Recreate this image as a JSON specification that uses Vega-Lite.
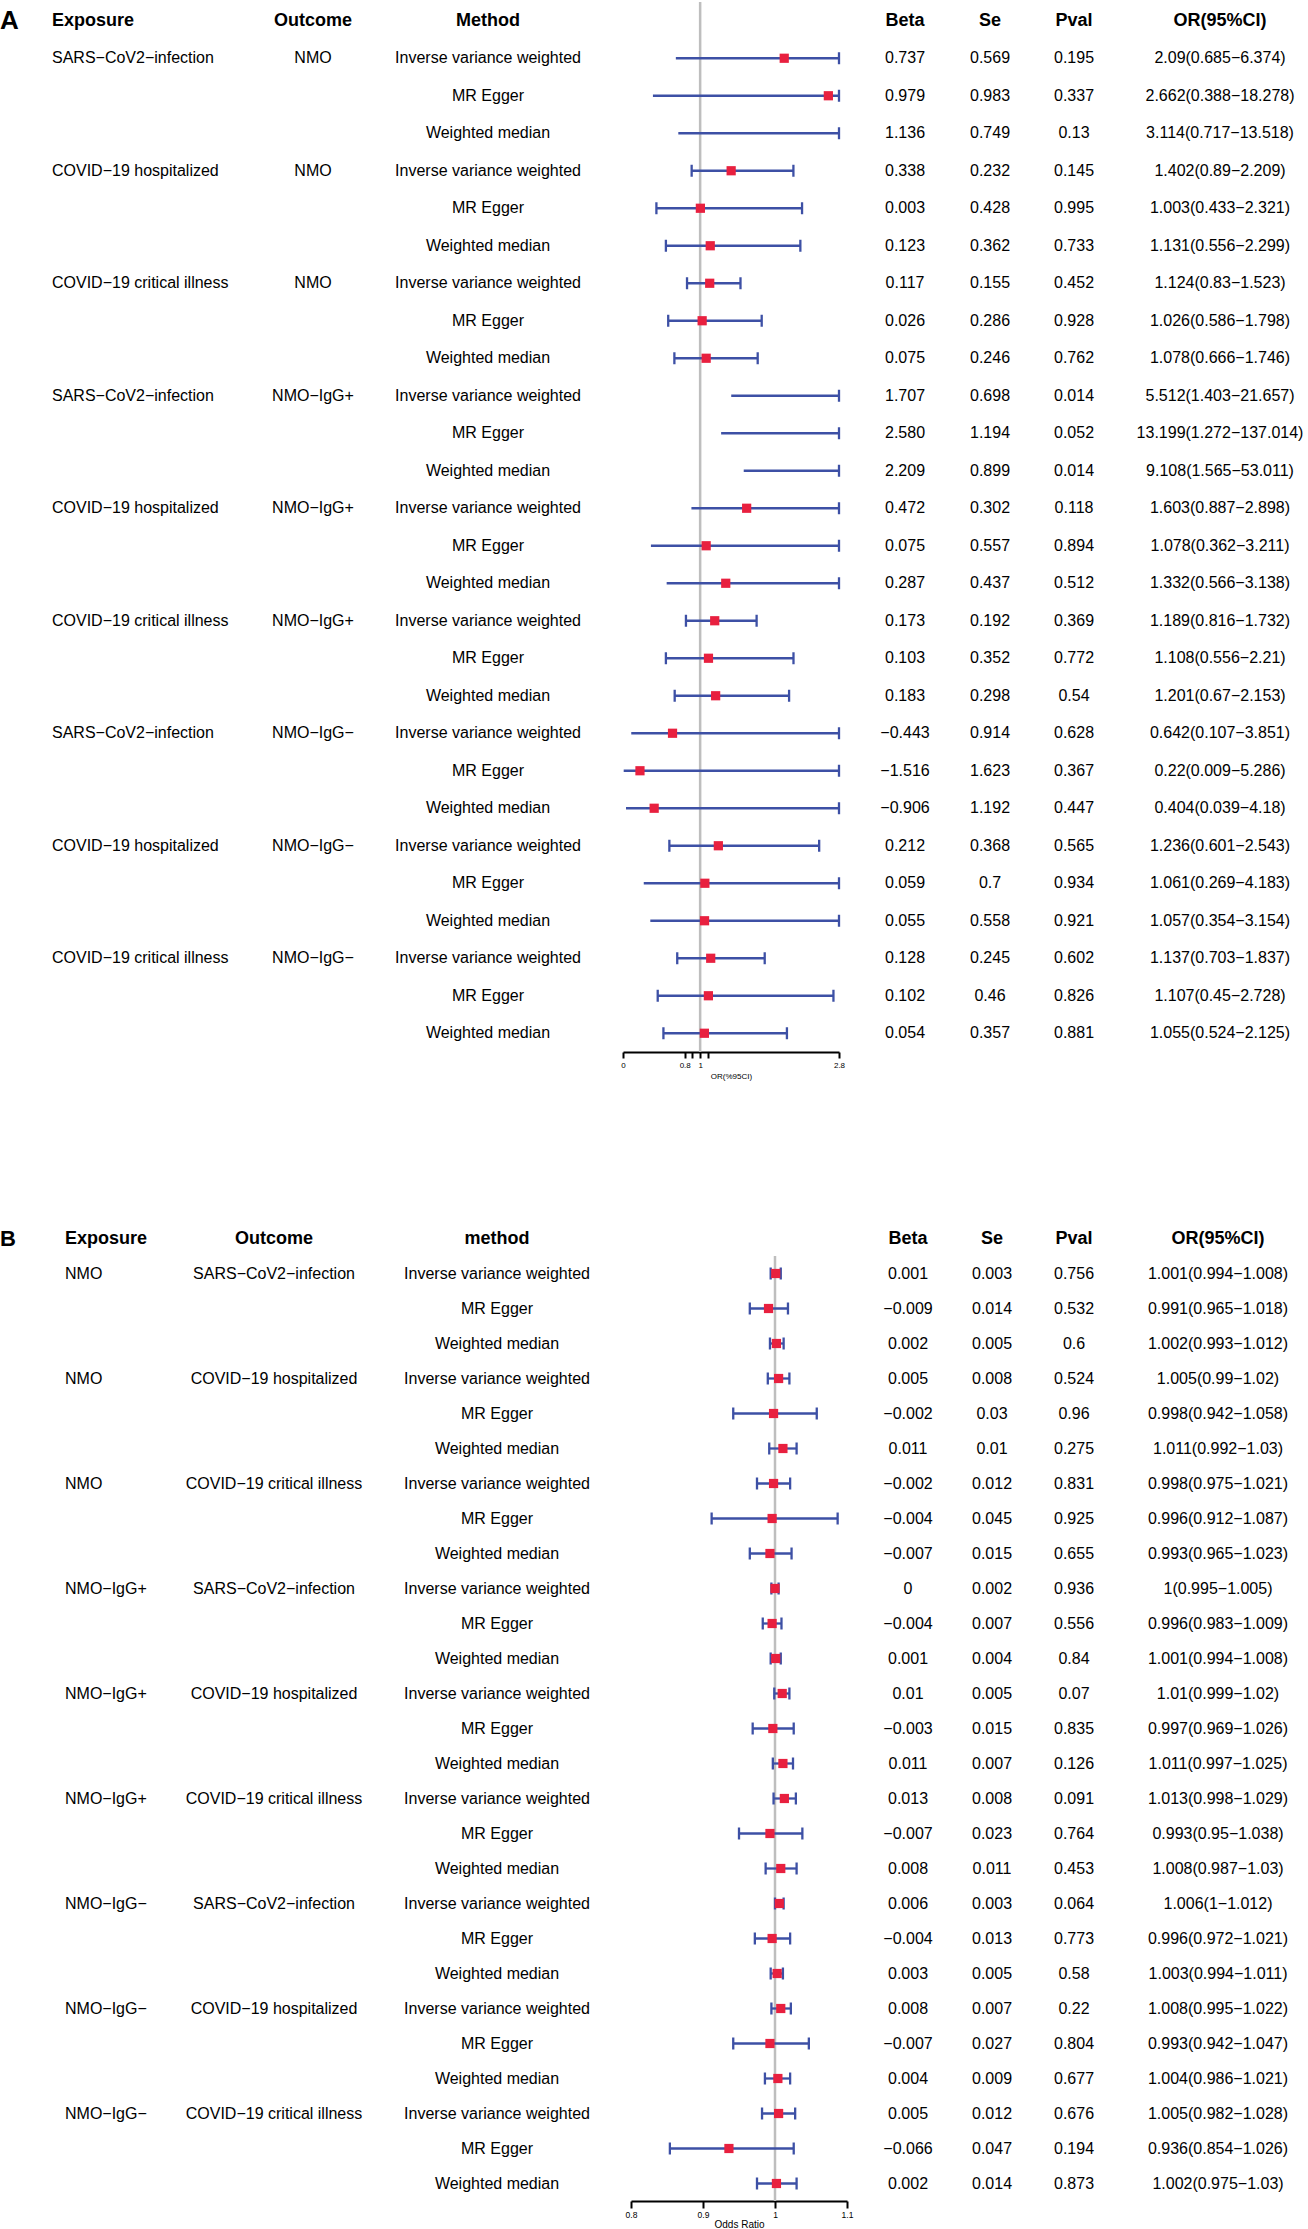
{
  "$schema": "https://vega.github.io/schema/vega-lite/v6.json",
  "padding": 0,
  "background": "white",
  "config": {
    "view": {"stroke": null},
    "text": {"font": "Liberation Sans", "fontSize": 16, "baseline": "middle", "color": "#000000"},
    "axis": {"labelFont": "Liberation Sans", "titleFont": "Liberation Sans", "labelColor": "#000000", "titleColor": "#000000"}
  },
  "datasets": {
    "A": [
      {"id":1,"exposure":"SARS−CoV2−infection","outcome":"NMO","method":"Inverse variance weighted","beta":"0.737","se":"0.569","pval":"0.195","or":2.09,"lo":0.685,"hi":6.374,"ci":"2.09(0.685−6.374)"},
      {"id":2,"exposure":"SARS−CoV2−infection","outcome":"NMO","method":"MR Egger","beta":"0.979","se":"0.983","pval":"0.337","or":2.662,"lo":0.388,"hi":18.278,"ci":"2.662(0.388−18.278)"},
      {"id":3,"exposure":"SARS−CoV2−infection","outcome":"NMO","method":"Weighted median","beta":"1.136","se":"0.749","pval":"0.13","or":3.114,"lo":0.717,"hi":13.518,"ci":"3.114(0.717−13.518)"},
      {"id":4,"exposure":"COVID−19 hospitalized","outcome":"NMO","method":"Inverse variance weighted","beta":"0.338","se":"0.232","pval":"0.145","or":1.402,"lo":0.89,"hi":2.209,"ci":"1.402(0.89−2.209)"},
      {"id":5,"exposure":"COVID−19 hospitalized","outcome":"NMO","method":"MR Egger","beta":"0.003","se":"0.428","pval":"0.995","or":1.003,"lo":0.433,"hi":2.321,"ci":"1.003(0.433−2.321)"},
      {"id":6,"exposure":"COVID−19 hospitalized","outcome":"NMO","method":"Weighted median","beta":"0.123","se":"0.362","pval":"0.733","or":1.131,"lo":0.556,"hi":2.299,"ci":"1.131(0.556−2.299)"},
      {"id":7,"exposure":"COVID−19 critical illness","outcome":"NMO","method":"Inverse variance weighted","beta":"0.117","se":"0.155","pval":"0.452","or":1.124,"lo":0.83,"hi":1.523,"ci":"1.124(0.83−1.523)"},
      {"id":8,"exposure":"COVID−19 critical illness","outcome":"NMO","method":"MR Egger","beta":"0.026","se":"0.286","pval":"0.928","or":1.026,"lo":0.586,"hi":1.798,"ci":"1.026(0.586−1.798)"},
      {"id":9,"exposure":"COVID−19 critical illness","outcome":"NMO","method":"Weighted median","beta":"0.075","se":"0.246","pval":"0.762","or":1.078,"lo":0.666,"hi":1.746,"ci":"1.078(0.666−1.746)"},
      {"id":10,"exposure":"SARS−CoV2−infection","outcome":"NMO−IgG+","method":"Inverse variance weighted","beta":"1.707","se":"0.698","pval":"0.014","or":5.512,"lo":1.403,"hi":21.657,"ci":"5.512(1.403−21.657)"},
      {"id":11,"exposure":"SARS−CoV2−infection","outcome":"NMO−IgG+","method":"MR Egger","beta":"2.580","se":"1.194","pval":"0.052","or":13.199,"lo":1.272,"hi":137.014,"ci":"13.199(1.272−137.014)"},
      {"id":12,"exposure":"SARS−CoV2−infection","outcome":"NMO−IgG+","method":"Weighted median","beta":"2.209","se":"0.899","pval":"0.014","or":9.108,"lo":1.565,"hi":53.011,"ci":"9.108(1.565−53.011)"},
      {"id":13,"exposure":"COVID−19 hospitalized","outcome":"NMO−IgG+","method":"Inverse variance weighted","beta":"0.472","se":"0.302","pval":"0.118","or":1.603,"lo":0.887,"hi":2.898,"ci":"1.603(0.887−2.898)"},
      {"id":14,"exposure":"COVID−19 hospitalized","outcome":"NMO−IgG+","method":"MR Egger","beta":"0.075","se":"0.557","pval":"0.894","or":1.078,"lo":0.362,"hi":3.211,"ci":"1.078(0.362−3.211)"},
      {"id":15,"exposure":"COVID−19 hospitalized","outcome":"NMO−IgG+","method":"Weighted median","beta":"0.287","se":"0.437","pval":"0.512","or":1.332,"lo":0.566,"hi":3.138,"ci":"1.332(0.566−3.138)"},
      {"id":16,"exposure":"COVID−19 critical illness","outcome":"NMO−IgG+","method":"Inverse variance weighted","beta":"0.173","se":"0.192","pval":"0.369","or":1.189,"lo":0.816,"hi":1.732,"ci":"1.189(0.816−1.732)"},
      {"id":17,"exposure":"COVID−19 critical illness","outcome":"NMO−IgG+","method":"MR Egger","beta":"0.103","se":"0.352","pval":"0.772","or":1.108,"lo":0.556,"hi":2.21,"ci":"1.108(0.556−2.21)"},
      {"id":18,"exposure":"COVID−19 critical illness","outcome":"NMO−IgG+","method":"Weighted median","beta":"0.183","se":"0.298","pval":"0.54","or":1.201,"lo":0.67,"hi":2.153,"ci":"1.201(0.67−2.153)"},
      {"id":19,"exposure":"SARS−CoV2−infection","outcome":"NMO−IgG−","method":"Inverse variance weighted","beta":"−0.443","se":"0.914","pval":"0.628","or":0.642,"lo":0.107,"hi":3.851,"ci":"0.642(0.107−3.851)"},
      {"id":20,"exposure":"SARS−CoV2−infection","outcome":"NMO−IgG−","method":"MR Egger","beta":"−1.516","se":"1.623","pval":"0.367","or":0.22,"lo":0.009,"hi":5.286,"ci":"0.22(0.009−5.286)"},
      {"id":21,"exposure":"SARS−CoV2−infection","outcome":"NMO−IgG−","method":"Weighted median","beta":"−0.906","se":"1.192","pval":"0.447","or":0.404,"lo":0.039,"hi":4.18,"ci":"0.404(0.039−4.18)"},
      {"id":22,"exposure":"COVID−19 hospitalized","outcome":"NMO−IgG−","method":"Inverse variance weighted","beta":"0.212","se":"0.368","pval":"0.565","or":1.236,"lo":0.601,"hi":2.543,"ci":"1.236(0.601−2.543)"},
      {"id":23,"exposure":"COVID−19 hospitalized","outcome":"NMO−IgG−","method":"MR Egger","beta":"0.059","se":"0.7","pval":"0.934","or":1.061,"lo":0.269,"hi":4.183,"ci":"1.061(0.269−4.183)"},
      {"id":24,"exposure":"COVID−19 hospitalized","outcome":"NMO−IgG−","method":"Weighted median","beta":"0.055","se":"0.558","pval":"0.921","or":1.057,"lo":0.354,"hi":3.154,"ci":"1.057(0.354−3.154)"},
      {"id":25,"exposure":"COVID−19 critical illness","outcome":"NMO−IgG−","method":"Inverse variance weighted","beta":"0.128","se":"0.245","pval":"0.602","or":1.137,"lo":0.703,"hi":1.837,"ci":"1.137(0.703−1.837)"},
      {"id":26,"exposure":"COVID−19 critical illness","outcome":"NMO−IgG−","method":"MR Egger","beta":"0.102","se":"0.46","pval":"0.826","or":1.107,"lo":0.45,"hi":2.728,"ci":"1.107(0.45−2.728)"},
      {"id":27,"exposure":"COVID−19 critical illness","outcome":"NMO−IgG−","method":"Weighted median","beta":"0.054","se":"0.357","pval":"0.881","or":1.055,"lo":0.524,"hi":2.125,"ci":"1.055(0.524−2.125)"}
    ],
    "B": [
      {"id":1,"exposure":"NMO","outcome":"SARS−CoV2−infection","method":"Inverse variance weighted","beta":"0.001","se":"0.003","pval":"0.756","or":1.001,"lo":0.994,"hi":1.008,"ci":"1.001(0.994−1.008)"},
      {"id":2,"exposure":"NMO","outcome":"SARS−CoV2−infection","method":"MR Egger","beta":"−0.009","se":"0.014","pval":"0.532","or":0.991,"lo":0.965,"hi":1.018,"ci":"0.991(0.965−1.018)"},
      {"id":3,"exposure":"NMO","outcome":"SARS−CoV2−infection","method":"Weighted median","beta":"0.002","se":"0.005","pval":"0.6","or":1.002,"lo":0.993,"hi":1.012,"ci":"1.002(0.993−1.012)"},
      {"id":4,"exposure":"NMO","outcome":"COVID−19 hospitalized","method":"Inverse variance weighted","beta":"0.005","se":"0.008","pval":"0.524","or":1.005,"lo":0.99,"hi":1.02,"ci":"1.005(0.99−1.02)"},
      {"id":5,"exposure":"NMO","outcome":"COVID−19 hospitalized","method":"MR Egger","beta":"−0.002","se":"0.03","pval":"0.96","or":0.998,"lo":0.942,"hi":1.058,"ci":"0.998(0.942−1.058)"},
      {"id":6,"exposure":"NMO","outcome":"COVID−19 hospitalized","method":"Weighted median","beta":"0.011","se":"0.01","pval":"0.275","or":1.011,"lo":0.992,"hi":1.03,"ci":"1.011(0.992−1.03)"},
      {"id":7,"exposure":"NMO","outcome":"COVID−19 critical illness","method":"Inverse variance weighted","beta":"−0.002","se":"0.012","pval":"0.831","or":0.998,"lo":0.975,"hi":1.021,"ci":"0.998(0.975−1.021)"},
      {"id":8,"exposure":"NMO","outcome":"COVID−19 critical illness","method":"MR Egger","beta":"−0.004","se":"0.045","pval":"0.925","or":0.996,"lo":0.912,"hi":1.087,"ci":"0.996(0.912−1.087)"},
      {"id":9,"exposure":"NMO","outcome":"COVID−19 critical illness","method":"Weighted median","beta":"−0.007","se":"0.015","pval":"0.655","or":0.993,"lo":0.965,"hi":1.023,"ci":"0.993(0.965−1.023)"},
      {"id":10,"exposure":"NMO−IgG+","outcome":"SARS−CoV2−infection","method":"Inverse variance weighted","beta":"0","se":"0.002","pval":"0.936","or":1,"lo":0.995,"hi":1.005,"ci":"1(0.995−1.005)"},
      {"id":11,"exposure":"NMO−IgG+","outcome":"SARS−CoV2−infection","method":"MR Egger","beta":"−0.004","se":"0.007","pval":"0.556","or":0.996,"lo":0.983,"hi":1.009,"ci":"0.996(0.983−1.009)"},
      {"id":12,"exposure":"NMO−IgG+","outcome":"SARS−CoV2−infection","method":"Weighted median","beta":"0.001","se":"0.004","pval":"0.84","or":1.001,"lo":0.994,"hi":1.008,"ci":"1.001(0.994−1.008)"},
      {"id":13,"exposure":"NMO−IgG+","outcome":"COVID−19 hospitalized","method":"Inverse variance weighted","beta":"0.01","se":"0.005","pval":"0.07","or":1.01,"lo":0.999,"hi":1.02,"ci":"1.01(0.999−1.02)"},
      {"id":14,"exposure":"NMO−IgG+","outcome":"COVID−19 hospitalized","method":"MR Egger","beta":"−0.003","se":"0.015","pval":"0.835","or":0.997,"lo":0.969,"hi":1.026,"ci":"0.997(0.969−1.026)"},
      {"id":15,"exposure":"NMO−IgG+","outcome":"COVID−19 hospitalized","method":"Weighted median","beta":"0.011","se":"0.007","pval":"0.126","or":1.011,"lo":0.997,"hi":1.025,"ci":"1.011(0.997−1.025)"},
      {"id":16,"exposure":"NMO−IgG+","outcome":"COVID−19 critical illness","method":"Inverse variance weighted","beta":"0.013","se":"0.008","pval":"0.091","or":1.013,"lo":0.998,"hi":1.029,"ci":"1.013(0.998−1.029)"},
      {"id":17,"exposure":"NMO−IgG+","outcome":"COVID−19 critical illness","method":"MR Egger","beta":"−0.007","se":"0.023","pval":"0.764","or":0.993,"lo":0.95,"hi":1.038,"ci":"0.993(0.95−1.038)"},
      {"id":18,"exposure":"NMO−IgG+","outcome":"COVID−19 critical illness","method":"Weighted median","beta":"0.008","se":"0.011","pval":"0.453","or":1.008,"lo":0.987,"hi":1.03,"ci":"1.008(0.987−1.03)"},
      {"id":19,"exposure":"NMO−IgG−","outcome":"SARS−CoV2−infection","method":"Inverse variance weighted","beta":"0.006","se":"0.003","pval":"0.064","or":1.006,"lo":1,"hi":1.012,"ci":"1.006(1−1.012)"},
      {"id":20,"exposure":"NMO−IgG−","outcome":"SARS−CoV2−infection","method":"MR Egger","beta":"−0.004","se":"0.013","pval":"0.773","or":0.996,"lo":0.972,"hi":1.021,"ci":"0.996(0.972−1.021)"},
      {"id":21,"exposure":"NMO−IgG−","outcome":"SARS−CoV2−infection","method":"Weighted median","beta":"0.003","se":"0.005","pval":"0.58","or":1.003,"lo":0.994,"hi":1.011,"ci":"1.003(0.994−1.011)"},
      {"id":22,"exposure":"NMO−IgG−","outcome":"COVID−19 hospitalized","method":"Inverse variance weighted","beta":"0.008","se":"0.007","pval":"0.22","or":1.008,"lo":0.995,"hi":1.022,"ci":"1.008(0.995−1.022)"},
      {"id":23,"exposure":"NMO−IgG−","outcome":"COVID−19 hospitalized","method":"MR Egger","beta":"−0.007","se":"0.027","pval":"0.804","or":0.993,"lo":0.942,"hi":1.047,"ci":"0.993(0.942−1.047)"},
      {"id":24,"exposure":"NMO−IgG−","outcome":"COVID−19 hospitalized","method":"Weighted median","beta":"0.004","se":"0.009","pval":"0.677","or":1.004,"lo":0.986,"hi":1.021,"ci":"1.004(0.986−1.021)"},
      {"id":25,"exposure":"NMO−IgG−","outcome":"COVID−19 critical illness","method":"Inverse variance weighted","beta":"0.005","se":"0.012","pval":"0.676","or":1.005,"lo":0.982,"hi":1.028,"ci":"1.005(0.982−1.028)"},
      {"id":26,"exposure":"NMO−IgG−","outcome":"COVID−19 critical illness","method":"MR Egger","beta":"−0.066","se":"0.047","pval":"0.194","or":0.936,"lo":0.854,"hi":1.026,"ci":"0.936(0.854−1.026)"},
      {"id":27,"exposure":"NMO−IgG−","outcome":"COVID−19 critical illness","method":"Weighted median","beta":"0.002","se":"0.014","pval":"0.873","or":1.002,"lo":0.975,"hi":1.03,"ci":"1.002(0.975−1.03)"}
    ]
  },
  "vconcat": [
    {
      "spacing": 0,
      "bounds": "flush",
      "hconcat": [
        {"width": 52, "height": 1050, "data": {"values": [{"id": 0, "t": "A"}]},
         "mark": {"type": "text", "align": "left", "fontSize": 26, "fontWeight": "bold"},
         "encoding": {"x": {"datum": 0, "type": "quantitative", "scale": {"domain": [0, 1]}, "axis": null},
                      "y": {"field": "id", "type": "quantitative", "scale": {"domain": [-0.5, 27.5], "reverse": true, "nice": false, "zero": false}, "axis": null},
                      "text": {"field": "t"}}},
        {"width": 221, "height": 1050, "layer": [
          {"data": {"values": [{"id": 0, "t": "Exposure"}]}, "mark": {"type": "text", "align": "left", "fontSize": 18, "fontWeight": "bold"},
           "encoding": {"x": {"datum": 0, "type": "quantitative", "scale": {"domain": [0, 1]}, "axis": null},
                        "y": {"field": "id", "type": "quantitative", "scale": {"domain": [-0.5, 27.5], "reverse": true, "nice": false, "zero": false}, "axis": null},
                        "text": {"field": "t"}}},
          {"data": {"name": "A"}, "transform": [{"filter": "datum.method == 'Inverse variance weighted'"}], "mark": {"type": "text", "align": "left"},
           "encoding": {"x": {"datum": 0, "type": "quantitative", "scale": {"domain": [0, 1]}, "axis": null},
                        "y": {"field": "id", "type": "quantitative", "scale": {"domain": [-0.5, 27.5], "reverse": true, "nice": false, "zero": false}, "axis": null},
                        "text": {"field": "exposure"}}}
        ]},
        {"width": 80, "height": 1050, "layer": [
          {"data": {"values": [{"id": 0, "t": "Outcome"}]}, "mark": {"type": "text", "fontSize": 18, "fontWeight": "bold"},
           "encoding": {"y": {"field": "id", "type": "quantitative", "scale": {"domain": [-0.5, 27.5], "reverse": true, "nice": false, "zero": false}, "axis": null}, "text": {"field": "t"}}},
          {"data": {"name": "A"}, "transform": [{"filter": "datum.method == 'Inverse variance weighted'"}], "mark": {"type": "text"},
           "encoding": {"y": {"field": "id", "type": "quantitative", "scale": {"domain": [-0.5, 27.5], "reverse": true, "nice": false, "zero": false}, "axis": null}, "text": {"field": "outcome"}}}
        ]},
        {"width": 270, "height": 1050, "layer": [
          {"data": {"values": [{"id": 0, "t": "Method"}]}, "mark": {"type": "text", "fontSize": 18, "fontWeight": "bold"},
           "encoding": {"y": {"field": "id", "type": "quantitative", "scale": {"domain": [-0.5, 27.5], "reverse": true, "nice": false, "zero": false}, "axis": null}, "text": {"field": "t"}}},
          {"data": {"name": "A"}, "mark": {"type": "text"},
           "encoding": {"y": {"field": "id", "type": "quantitative", "scale": {"domain": [-0.5, 27.5], "reverse": true, "nice": false, "zero": false}, "axis": null}, "text": {"field": "method"}}}
        ]},
        {"width": 216, "height": 1050, "layer": [
          {"data": {"values": [{}]}, "mark": {"type": "rule", "color": "#BEBEBE", "strokeWidth": 2.5},
           "encoding": {"x": {"datum": 1, "type": "quantitative", "scale": {"domain": [0, 2.8], "nice": false, "zero": false, "clamp": true}},
                        "y": {"datum": -0.5, "type": "quantitative", "scale": {"domain": [-0.5, 27.5], "reverse": true, "nice": false, "zero": false}, "axis": null},
                        "y2": {"datum": 27.5}}},
          {"data": {"name": "A"}, "mark": {"type": "rule", "color": "#3D50A5", "strokeWidth": 2.3},
           "encoding": {"x": {"field": "lo", "type": "quantitative", "scale": {"domain": [0, 2.8], "nice": false, "zero": false, "clamp": true},
                              "axis": {"values": [0, 0.8, 0.9, 1, 1.1, 2.8], "format": "~g", "labelExpr": "datum.value == 0.9 || datum.value == 1.1 ? '' : datum.label",
                                       "title": "OR(%95CI)", "grid": false, "domainColor": "#000000", "domainWidth": 2, "tickColor": "#000000", "tickWidth": 2, "tickSize": 6,
                                       "labelFontSize": 8, "labelPadding": 3, "labelFlush": false, "labelOverlap": false, "titleFontSize": 8, "titleFontWeight": "normal", "titlePadding": 3}},
                        "x2": {"field": "hi"},
                        "y": {"field": "id", "type": "quantitative", "axis": null}}},
          {"data": {"name": "A"}, "mark": {"type": "tick", "orient": "vertical", "size": 12, "thickness": 2.3, "color": "#3D50A5", "opacity": 1},
           "encoding": {"x": {"field": "hi", "type": "quantitative"},
                        "y": {"field": "id", "type": "quantitative", "axis": null}}},
          {"data": {"name": "A"}, "transform": [{"filter": "datum.hi <= 2.8"}], "mark": {"type": "tick", "orient": "vertical", "size": 12, "thickness": 2.3, "color": "#3D50A5", "opacity": 1},
           "encoding": {"x": {"field": "lo", "type": "quantitative"},
                        "y": {"field": "id", "type": "quantitative", "axis": null}}},
          {"data": {"name": "A"}, "transform": [{"filter": "datum.or <= 2.8"}], "mark": {"type": "square", "size": 85, "color": "#E8203F", "opacity": 1},
           "encoding": {"x": {"field": "or", "type": "quantitative"},
                        "y": {"field": "id", "type": "quantitative", "axis": null}}}
        ]},
        {"width": 132, "height": 1050, "layer": [
          {"data": {"values": [{"id": 0, "t": "Beta"}]}, "mark": {"type": "text", "fontSize": 18, "fontWeight": "bold"},
           "encoding": {"y": {"field": "id", "type": "quantitative", "scale": {"domain": [-0.5, 27.5], "reverse": true, "nice": false, "zero": false}, "axis": null}, "text": {"field": "t"}}},
          {"data": {"name": "A"}, "mark": {"type": "text"},
           "encoding": {"y": {"field": "id", "type": "quantitative", "scale": {"domain": [-0.5, 27.5], "reverse": true, "nice": false, "zero": false}, "axis": null}, "text": {"field": "beta"}}}
        ]},
        {"width": 38, "height": 1050, "layer": [
          {"data": {"values": [{"id": 0, "t": "Se"}]}, "mark": {"type": "text", "fontSize": 18, "fontWeight": "bold"},
           "encoding": {"y": {"field": "id", "type": "quantitative", "scale": {"domain": [-0.5, 27.5], "reverse": true, "nice": false, "zero": false}, "axis": null}, "text": {"field": "t"}}},
          {"data": {"name": "A"}, "mark": {"type": "text"},
           "encoding": {"y": {"field": "id", "type": "quantitative", "scale": {"domain": [-0.5, 27.5], "reverse": true, "nice": false, "zero": false}, "axis": null}, "text": {"field": "se"}}}
        ]},
        {"width": 130, "height": 1050, "layer": [
          {"data": {"values": [{"id": 0, "t": "Pval"}]}, "mark": {"type": "text", "fontSize": 18, "fontWeight": "bold"},
           "encoding": {"y": {"field": "id", "type": "quantitative", "scale": {"domain": [-0.5, 27.5], "reverse": true, "nice": false, "zero": false}, "axis": null}, "text": {"field": "t"}}},
          {"data": {"name": "A"}, "mark": {"type": "text"},
           "encoding": {"y": {"field": "id", "type": "quantitative", "scale": {"domain": [-0.5, 27.5], "reverse": true, "nice": false, "zero": false}, "axis": null}, "text": {"field": "pval"}}}
        ]},
        {"width": 162, "height": 1050, "layer": [
          {"data": {"values": [{"id": 0, "t": "OR(95%CI)"}]}, "mark": {"type": "text", "fontSize": 18, "fontWeight": "bold"},
           "encoding": {"y": {"field": "id", "type": "quantitative", "scale": {"domain": [-0.5, 27.5], "reverse": true, "nice": false, "zero": false}, "axis": null}, "text": {"field": "t"}}},
          {"data": {"name": "A"}, "mark": {"type": "text"},
           "encoding": {"y": {"field": "id", "type": "quantitative", "scale": {"domain": [-0.5, 27.5], "reverse": true, "nice": false, "zero": false}, "axis": null}, "text": {"field": "ci"}}}
        ]}
      ]
    },
    {
      "spacing": 0,
      "bounds": "flush",
      "hconcat": [
        {"width": 65, "height": 980, "data": {"values": [{"id": 0, "t": "B"}]},
         "mark": {"type": "text", "align": "left", "fontSize": 22, "fontWeight": "bold"},
         "encoding": {"x": {"datum": 0, "type": "quantitative", "scale": {"domain": [0, 1]}, "axis": null},
                      "y": {"field": "id", "type": "quantitative", "scale": {"domain": [-0.5, 27.5], "reverse": true, "nice": false, "zero": false}, "axis": null},
                      "text": {"field": "t"}}},
        {"width": 120, "height": 980, "layer": [
          {"data": {"values": [{"id": 0, "t": "Exposure"}]}, "mark": {"type": "text", "align": "left", "fontSize": 18, "fontWeight": "bold"},
           "encoding": {"x": {"datum": 0, "type": "quantitative", "scale": {"domain": [0, 1]}, "axis": null},
                        "y": {"field": "id", "type": "quantitative", "scale": {"domain": [-0.5, 27.5], "reverse": true, "nice": false, "zero": false}, "axis": null},
                        "text": {"field": "t"}}},
          {"data": {"name": "B"}, "transform": [{"filter": "datum.method == 'Inverse variance weighted'"}], "mark": {"type": "text", "align": "left"},
           "encoding": {"x": {"datum": 0, "type": "quantitative", "scale": {"domain": [0, 1]}, "axis": null},
                        "y": {"field": "id", "type": "quantitative", "scale": {"domain": [-0.5, 27.5], "reverse": true, "nice": false, "zero": false}, "axis": null},
                        "text": {"field": "exposure"}}}
        ]},
        {"width": 178, "height": 980, "layer": [
          {"data": {"values": [{"id": 0, "t": "Outcome"}]}, "mark": {"type": "text", "fontSize": 18, "fontWeight": "bold"},
           "encoding": {"y": {"field": "id", "type": "quantitative", "scale": {"domain": [-0.5, 27.5], "reverse": true, "nice": false, "zero": false}, "axis": null}, "text": {"field": "t"}}},
          {"data": {"name": "B"}, "transform": [{"filter": "datum.method == 'Inverse variance weighted'"}], "mark": {"type": "text"},
           "encoding": {"y": {"field": "id", "type": "quantitative", "scale": {"domain": [-0.5, 27.5], "reverse": true, "nice": false, "zero": false}, "axis": null}, "text": {"field": "outcome"}}}
        ]},
        {"width": 268, "height": 980, "layer": [
          {"data": {"values": [{"id": 0, "t": "method"}]}, "mark": {"type": "text", "fontSize": 18, "fontWeight": "bold"},
           "encoding": {"y": {"field": "id", "type": "quantitative", "scale": {"domain": [-0.5, 27.5], "reverse": true, "nice": false, "zero": false}, "axis": null}, "text": {"field": "t"}}},
          {"data": {"name": "B"}, "mark": {"type": "text"},
           "encoding": {"y": {"field": "id", "type": "quantitative", "scale": {"domain": [-0.5, 27.5], "reverse": true, "nice": false, "zero": false}, "axis": null}, "text": {"field": "method"}}}
        ]},
        {"width": 216, "height": 980, "layer": [
          {"data": {"values": [{}]}, "mark": {"type": "rule", "color": "#BEBEBE", "strokeWidth": 2.5},
           "encoding": {"x": {"datum": 1, "type": "quantitative", "scale": {"domain": [0.8, 1.1], "nice": false, "zero": false, "clamp": true}},
                        "y": {"datum": 0.5, "type": "quantitative", "scale": {"domain": [-0.5, 27.5], "reverse": true, "nice": false, "zero": false}, "axis": null},
                        "y2": {"datum": 27.5}}},
          {"data": {"name": "B"}, "mark": {"type": "rule", "color": "#3D50A5", "strokeWidth": 2.3},
           "encoding": {"x": {"field": "lo", "type": "quantitative", "scale": {"domain": [0.8, 1.1], "nice": false, "zero": false, "clamp": true},
                              "axis": {"values": [0.8, 0.9, 1, 1.1], "format": "~g",
                                       "title": "Odds Ratio", "grid": false, "domainColor": "#000000", "domainWidth": 2, "tickColor": "#000000", "tickWidth": 2, "tickSize": 7,
                                       "labelFontSize": 8.5, "labelPadding": 2, "labelFlush": false, "labelOverlap": false, "titleFontSize": 10, "titleFontWeight": "normal", "titlePadding": 1}},
                        "x2": {"field": "hi"},
                        "y": {"field": "id", "type": "quantitative", "axis": null}}},
          {"data": {"name": "B"}, "mark": {"type": "tick", "orient": "vertical", "size": 12, "thickness": 2.3, "color": "#3D50A5", "opacity": 1},
           "encoding": {"x": {"field": "hi", "type": "quantitative"},
                        "y": {"field": "id", "type": "quantitative", "axis": null}}},
          {"data": {"name": "B"}, "mark": {"type": "tick", "orient": "vertical", "size": 12, "thickness": 2.3, "color": "#3D50A5", "opacity": 1},
           "encoding": {"x": {"field": "lo", "type": "quantitative"},
                        "y": {"field": "id", "type": "quantitative", "axis": null}}},
          {"data": {"name": "B"}, "mark": {"type": "square", "size": 85, "color": "#E8203F", "opacity": 1},
           "encoding": {"x": {"field": "or", "type": "quantitative"},
                        "y": {"field": "id", "type": "quantitative", "axis": null}}}
        ]},
        {"width": 122, "height": 980, "layer": [
          {"data": {"values": [{"id": 0, "t": "Beta"}]}, "mark": {"type": "text", "fontSize": 18, "fontWeight": "bold"},
           "encoding": {"y": {"field": "id", "type": "quantitative", "scale": {"domain": [-0.5, 27.5], "reverse": true, "nice": false, "zero": false}, "axis": null}, "text": {"field": "t"}}},
          {"data": {"name": "B"}, "mark": {"type": "text"},
           "encoding": {"y": {"field": "id", "type": "quantitative", "scale": {"domain": [-0.5, 27.5], "reverse": true, "nice": false, "zero": false}, "axis": null}, "text": {"field": "beta"}}}
        ]},
        {"width": 46, "height": 980, "layer": [
          {"data": {"values": [{"id": 0, "t": "Se"}]}, "mark": {"type": "text", "fontSize": 18, "fontWeight": "bold"},
           "encoding": {"y": {"field": "id", "type": "quantitative", "scale": {"domain": [-0.5, 27.5], "reverse": true, "nice": false, "zero": false}, "axis": null}, "text": {"field": "t"}}},
          {"data": {"name": "B"}, "mark": {"type": "text"},
           "encoding": {"y": {"field": "id", "type": "quantitative", "scale": {"domain": [-0.5, 27.5], "reverse": true, "nice": false, "zero": false}, "axis": null}, "text": {"field": "se"}}}
        ]},
        {"width": 118, "height": 980, "layer": [
          {"data": {"values": [{"id": 0, "t": "Pval"}]}, "mark": {"type": "text", "fontSize": 18, "fontWeight": "bold"},
           "encoding": {"y": {"field": "id", "type": "quantitative", "scale": {"domain": [-0.5, 27.5], "reverse": true, "nice": false, "zero": false}, "axis": null}, "text": {"field": "t"}}},
          {"data": {"name": "B"}, "mark": {"type": "text"},
           "encoding": {"y": {"field": "id", "type": "quantitative", "scale": {"domain": [-0.5, 27.5], "reverse": true, "nice": false, "zero": false}, "axis": null}, "text": {"field": "pval"}}}
        ]},
        {"width": 170, "height": 980, "layer": [
          {"data": {"values": [{"id": 0, "t": "OR(95%CI)"}]}, "mark": {"type": "text", "fontSize": 18, "fontWeight": "bold"},
           "encoding": {"y": {"field": "id", "type": "quantitative", "scale": {"domain": [-0.5, 27.5], "reverse": true, "nice": false, "zero": false}, "axis": null}, "text": {"field": "t"}}},
          {"data": {"name": "B"}, "mark": {"type": "text"},
           "encoding": {"y": {"field": "id", "type": "quantitative", "scale": {"domain": [-0.5, 27.5], "reverse": true, "nice": false, "zero": false}, "axis": null}, "text": {"field": "ci"}}}
        ]}
      ]
    }
  ],
  "spacing": 141
}
